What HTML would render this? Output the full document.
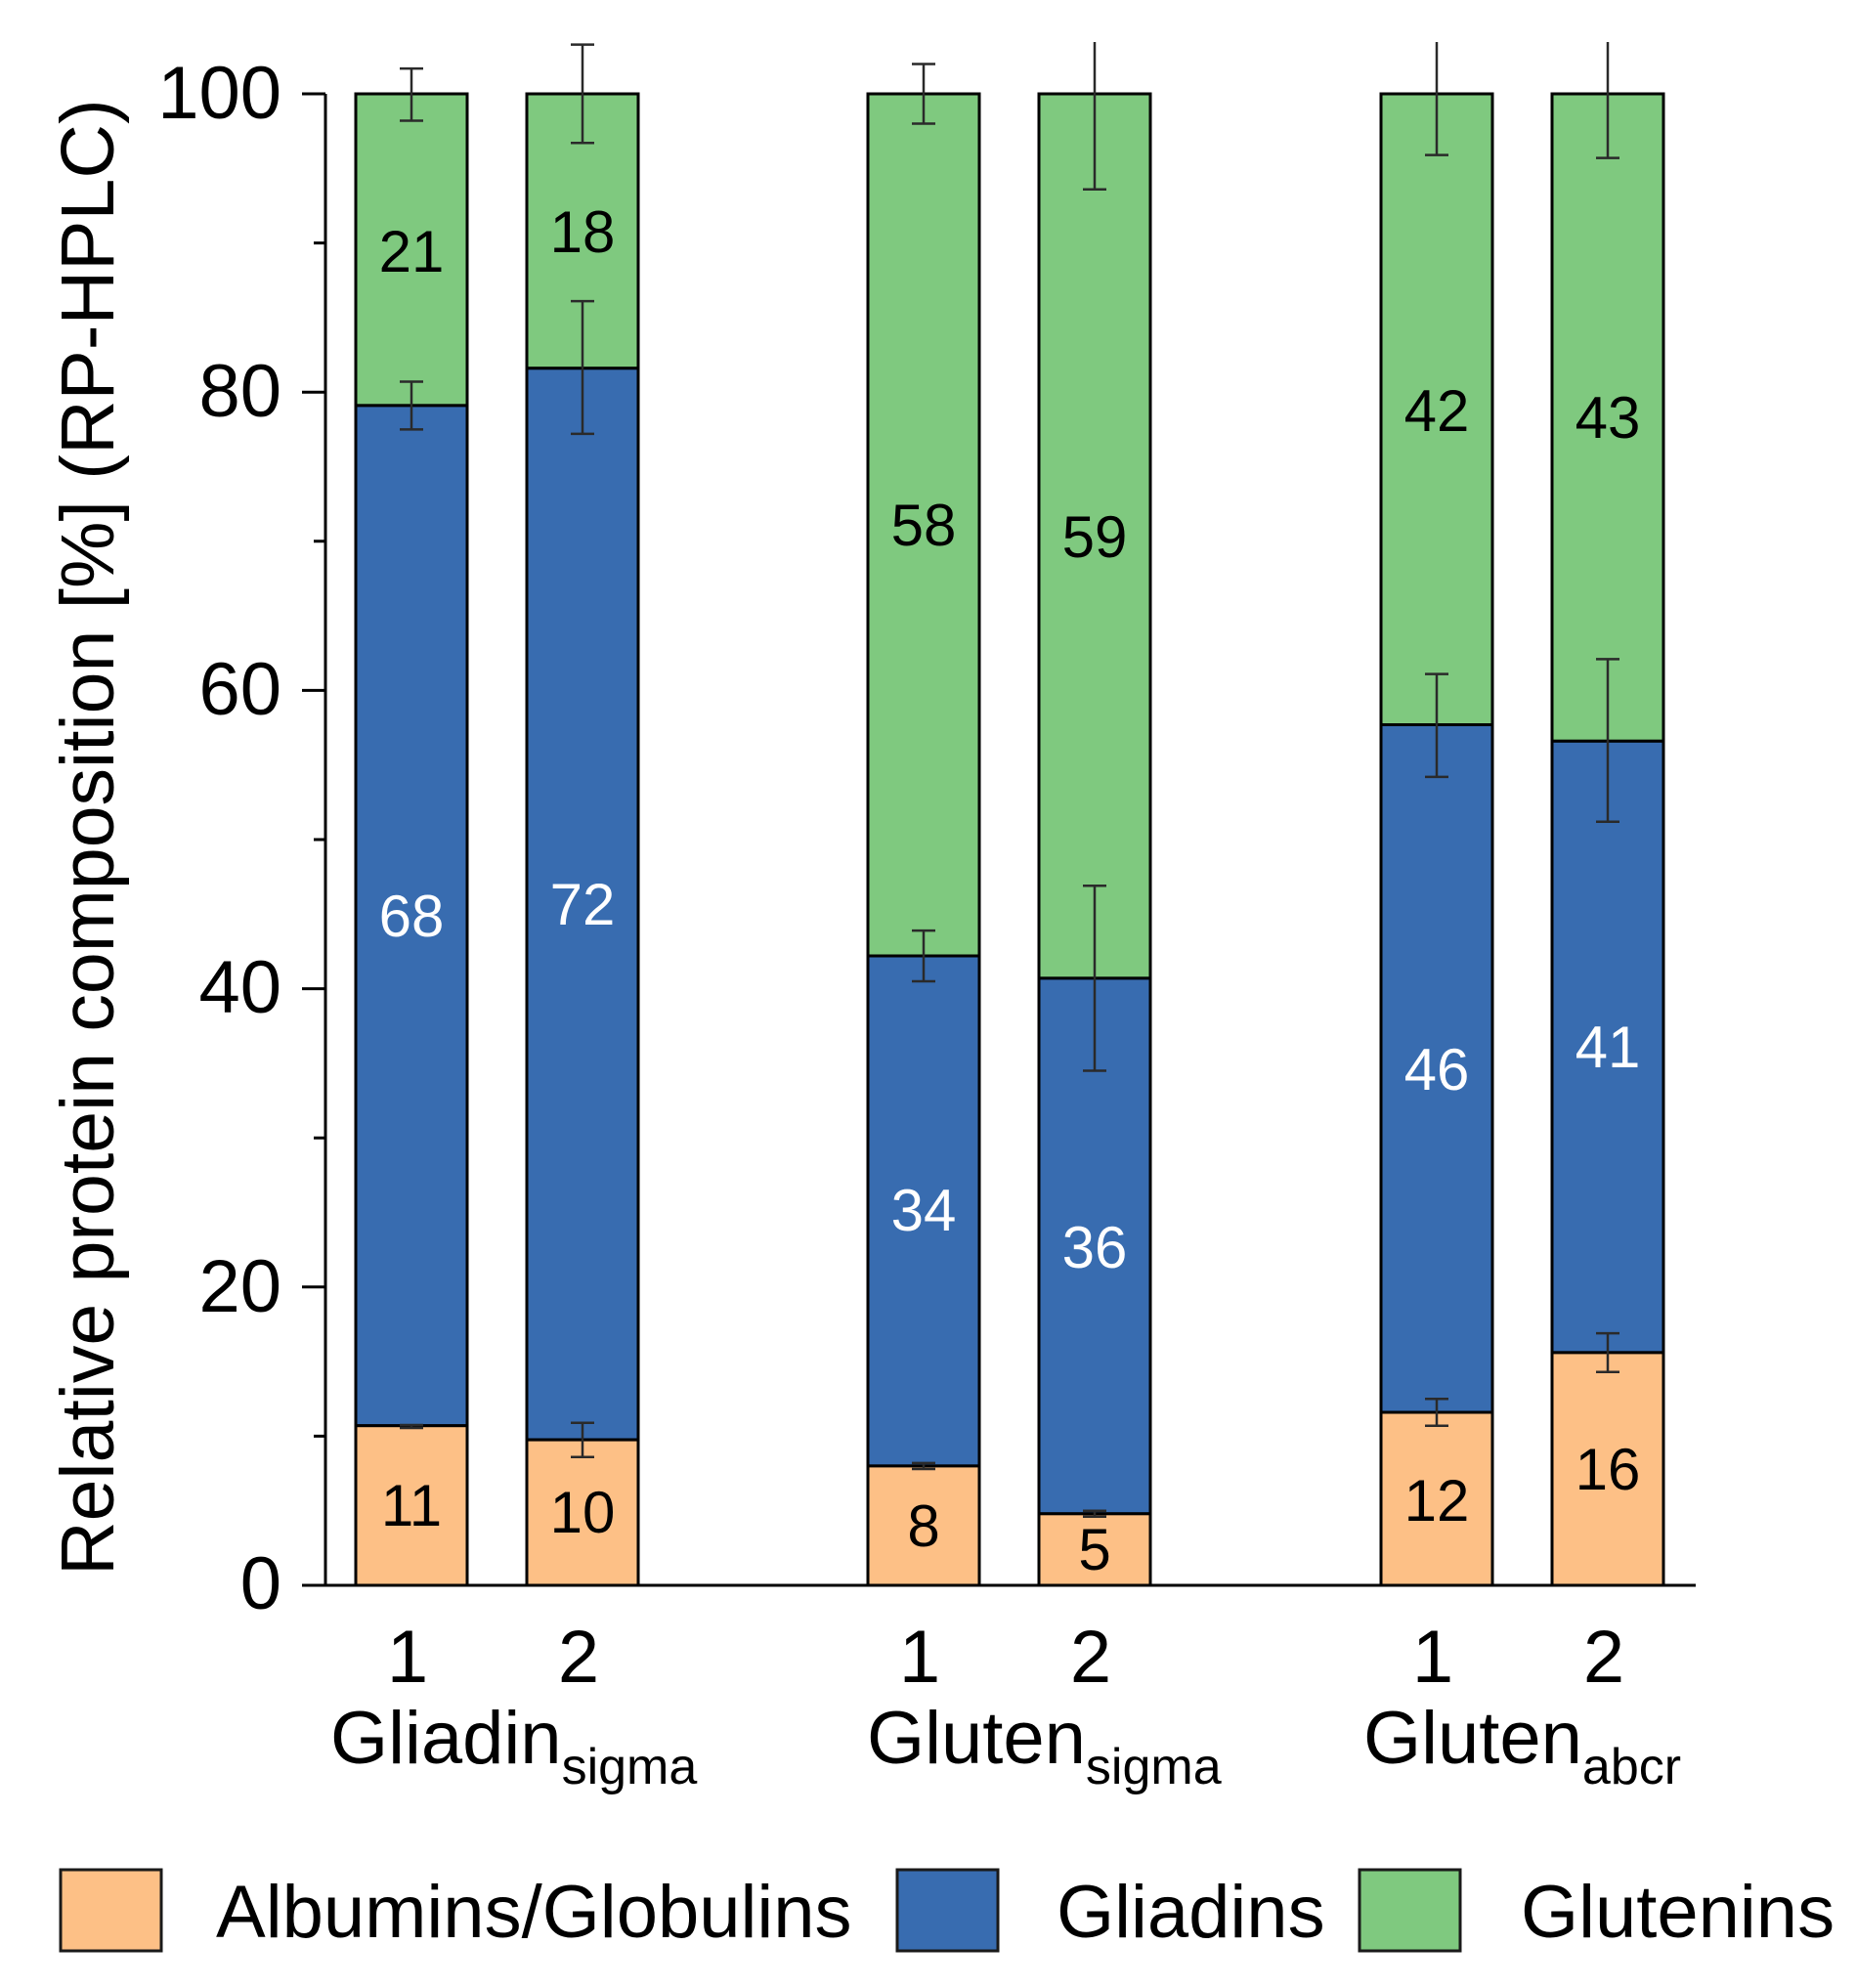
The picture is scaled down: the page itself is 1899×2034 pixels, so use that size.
<!DOCTYPE html>
<html><head><meta charset="utf-8"><style>html,body{margin:0;padding:0;background:#fff}svg{display:block}</style></head>
<body>
<svg xmlns="http://www.w3.org/2000/svg" width="1899" height="2034" viewBox="0 0 1899 2034" font-family="'Liberation Sans', Arial, sans-serif">
<rect width="1899" height="2034" fill="#fff"/>
<!-- bars -->
<g stroke="#000" stroke-width="3">
<rect x="364" y="96" width="114" height="318.9" fill="#7fc97f"/>
<rect x="364" y="414.9" width="114" height="1043.8" fill="#386cb0"/>
<rect x="364" y="1458.7" width="114" height="163.3" fill="#fdc086"/>

<rect x="539" y="96" width="114" height="280.8" fill="#7fc97f"/>
<rect x="539" y="376.8" width="114" height="1096.3" fill="#386cb0"/>
<rect x="539" y="1473.1" width="114" height="148.9" fill="#fdc086"/>

<rect x="888" y="96" width="114" height="882" fill="#7fc97f"/>
<rect x="888" y="978" width="114" height="521.9" fill="#386cb0"/>
<rect x="888" y="1499.9" width="114" height="122.1" fill="#fdc086"/>

<rect x="1063" y="96" width="114" height="904.9" fill="#7fc97f"/>
<rect x="1063" y="1000.9" width="114" height="547.9" fill="#386cb0"/>
<rect x="1063" y="1548.8" width="114" height="73.2" fill="#fdc086"/>

<rect x="1413" y="96" width="114" height="645.5" fill="#7fc97f"/>
<rect x="1413" y="741.5" width="114" height="703.5" fill="#386cb0"/>
<rect x="1413" y="1445" width="114" height="177" fill="#fdc086"/>

<rect x="1588" y="96" width="114" height="662.3" fill="#7fc97f"/>
<rect x="1588" y="758.3" width="114" height="625.6" fill="#386cb0"/>
<rect x="1588" y="1383.9" width="114" height="238.1" fill="#fdc086"/>
</g>
<!-- error bars -->
<g stroke="#2a2a2a" stroke-width="2.5" fill="none">
<path d="M421 70.1V123.5M409 70.1H433M409 123.5H433"/>
<path d="M421 390.5V439.4M409 390.5H433M409 439.4H433"/>
<path d="M421 1458V1461M409 1458H433M409 1461H433"/>

<path d="M596 45.6V146.3M584 45.6H608M584 146.3H608"/>
<path d="M596 308.1V443.9M584 308.1H608M584 443.9H608"/>
<path d="M596 1455.7V1490.8M584 1455.7H608M584 1490.8H608"/>

<path d="M945 65.5V126.5M933 65.5H957M933 126.5H957"/>
<path d="M945 952.1V1004M933 952.1H957M933 1004H957"/>
<path d="M945 1496.9V1503M933 1496.9H957M933 1503H957"/>

<path d="M1120 43V193.7M1108 193.7H1132"/>
<path d="M1120 906.3V1095.5M1108 906.3H1132M1108 1095.5H1132"/>
<path d="M1120 1545.7V1551.8M1108 1545.7H1132M1108 1551.8H1132"/>

<path d="M1470 43V158.6M1458 158.6H1482"/>
<path d="M1470 689.6V794.9M1458 689.6H1482M1458 794.9H1482"/>
<path d="M1470 1431.3V1458.7M1458 1431.3H1482M1458 1458.7H1482"/>

<path d="M1645 43V161.6M1633 161.6H1657"/>
<path d="M1645 674.4V840.7M1633 674.4H1657M1633 840.7H1657"/>
<path d="M1645 1364.1V1403.8M1633 1364.1H1657M1633 1403.8H1657"/>
</g>
<!-- value labels -->
<g font-size="60" text-anchor="middle">
<text x="421" y="278">21</text>
<text x="421" y="958" fill="#fff">68</text>
<text x="421" y="1561">11</text>
<text x="596" y="258">18</text>
<text x="596" y="946" fill="#fff">72</text>
<text x="596" y="1568">10</text>
<text x="945" y="558">58</text>
<text x="945" y="1259" fill="#fff">34</text>
<text x="945" y="1582">8</text>
<text x="1120" y="570">59</text>
<text x="1120" y="1297" fill="#fff">36</text>
<text x="1120" y="1606">5</text>
<text x="1470" y="441">42</text>
<text x="1470" y="1115" fill="#fff">46</text>
<text x="1470" y="1556">12</text>
<text x="1645" y="448">43</text>
<text x="1645" y="1092" fill="#fff">41</text>
<text x="1645" y="1524">16</text>
</g>
<!-- axes -->
<g stroke="#000" stroke-width="3" fill="none">
<path d="M333 96V1623"/>
<path d="M309 1622H1735"/>
<path d="M309 96H333M309 401.2H333M309 706.4H333M309 1011.6H333M309 1316.8H333"/>
<path d="M321 248.6H333M321 553.8H333M321 859H333M321 1164.2H333M321 1469.4H333"/>
</g>
<g font-size="76" text-anchor="end">
<text x="288" y="121">100</text>
<text x="288" y="426">80</text>
<text x="288" y="731">60</text>
<text x="288" y="1036">40</text>
<text x="288" y="1342">20</text>
<text x="288" y="1646">0</text>
</g>
<g font-size="76" text-anchor="middle">
<text x="417" y="1721">1</text>
<text x="592" y="1721">2</text>
<text x="941" y="1721">1</text>
<text x="1116" y="1721">2</text>
<text x="1466" y="1721">1</text>
<text x="1641" y="1721">2</text>
</g>
<g font-size="76">
<text x="338" y="1804">Gliadin<tspan font-size="52" dy="21">sigma</tspan></text>
<text x="887" y="1804">Gluten<tspan font-size="52" dy="21">sigma</tspan></text>
<text x="1395" y="1804">Gluten<tspan font-size="52" dy="21">abcr</tspan></text>
</g>
<text transform="translate(116,1612) rotate(-90)" font-size="77">Relative protein composition [%] (RP-HPLC)</text>
<!-- legend -->
<g stroke="#1a1a1a" stroke-width="3">
<rect x="62" y="1913" width="103" height="83" fill="#fdc086"/>
<rect x="918" y="1913" width="103" height="83" fill="#386cb0"/>
<rect x="1391" y="1913" width="103" height="83" fill="#7fc97f"/>
</g>
<g font-size="76">
<text x="221" y="1982">Albumins/Globulins</text>
<text x="1081" y="1982">Gliadins</text>
<text x="1556" y="1982">Glutenins</text>
</g>
</svg>
</body></html>
